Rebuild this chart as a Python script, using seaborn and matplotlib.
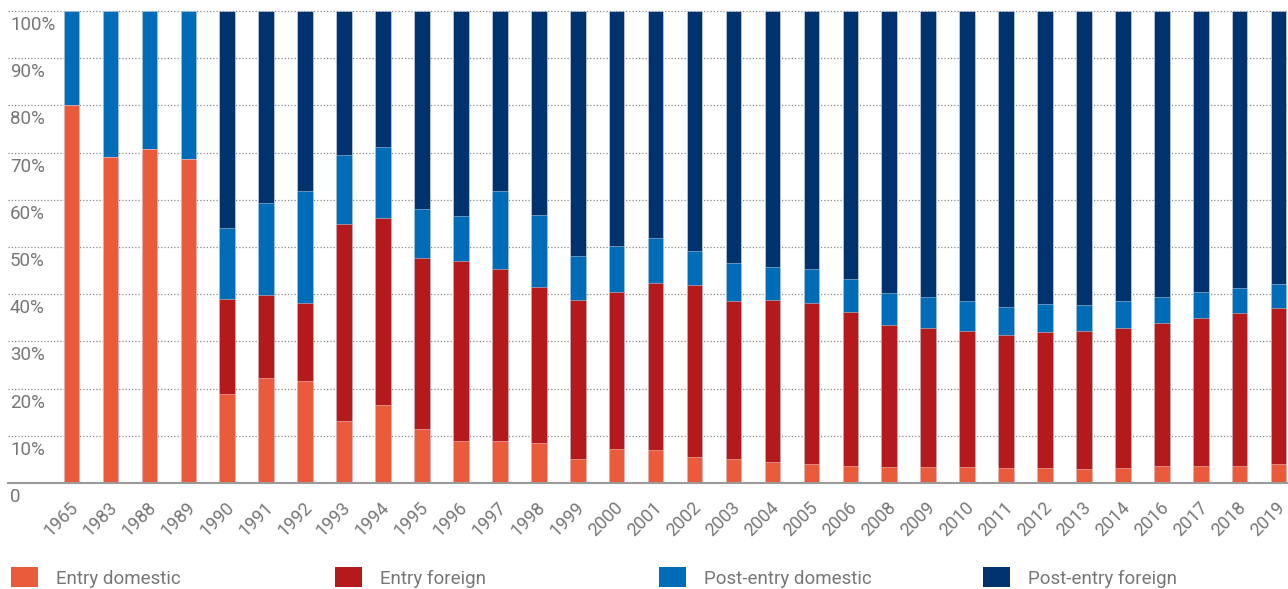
import matplotlib
matplotlib.use("Agg")
import matplotlib.pyplot as plt
import matplotlib.transforms as mtransforms
from matplotlib.patches import Patch
import numpy as np
import pandas as pd
import seaborn as sns

# Share of each type of capital (%), by year
years = ["1965", "1983", "1988", "1989", "1990", "1991", "1992", "1993", "1994",
         "1995", "1996", "1997", "1998", "1999", "2000", "2001", "2002", "2003",
         "2004", "2005", "2006", "2008", "2009", "2010", "2011", "2012", "2013",
         "2014", "2016", "2017", "2018", "2019"]

entry_domestic = [80.0, 69.1, 70.8, 68.6, 18.9, 22.2, 21.6, 13.1, 16.5, 11.4,
                  9.0, 8.9, 8.5, 5.1, 7.3, 6.9, 5.5, 5.1, 4.4, 4.0, 3.6, 3.4,
                  3.4, 3.4, 3.1, 3.1, 3.0, 3.1, 3.5, 3.5, 3.7, 4.0]
entry_foreign = [0.0, 0.0, 0.0, 0.0, 20.1, 17.6, 16.5, 41.7, 39.7, 36.3,
                 38.1, 36.4, 33.0, 33.7, 33.2, 35.4, 36.5, 33.4, 34.4, 34.2,
                 32.6, 30.1, 29.5, 28.7, 28.2, 28.8, 29.1, 29.8, 30.4, 31.5,
                 32.4, 33.0]
post_entry_domestic = [20.0, 30.9, 29.2, 31.4, 15.0, 19.5, 23.8, 14.6, 14.9,
                       10.3, 9.4, 16.5, 15.2, 9.3, 9.8, 9.5, 7.2, 8.2, 6.9,
                       7.1, 7.1, 6.7, 6.6, 6.4, 5.9, 6.0, 5.7, 5.7, 5.6, 5.4,
                       5.3, 5.2]
post_entry_foreign = [0.0, 0.0, 0.0, 0.0, 46.0, 40.7, 38.1, 30.6, 28.9, 42.0,
                      43.5, 38.2, 43.3, 51.9, 49.7, 48.2, 50.8, 53.3, 54.3,
                      54.7, 56.7, 59.8, 60.5, 61.5, 62.8, 62.1, 62.2, 61.4,
                      60.5, 59.6, 58.6, 57.8]

series_names = ["Entry domestic", "Entry foreign", "Post-entry domestic",
                "Post-entry foreign"]
series_colors = ["#EA5B3C", "#B4191C", "#006BB6", "#00336E"]

ytick_values = [0, 10, 20, 30, 40, 50, 60, 70, 80, 90, 100]
ytick_labels = ["0", "10%", "20%", "30%", "40%", "50%", "60%", "70%", "80%",
                "90%", "100%"]

sns.set_theme(style="white")
plt.rcParams["font.family"] = ["Roboto", "DejaVu Sans"]

text_grey = "#777777"

df = pd.DataFrame({
    "year": years,
    "ed": entry_domestic,
    "ef": entry_foreign,
    "pd": post_entry_domestic,
    "pf": post_entry_foreign,
})
# cumulative tops of each stacked segment
df["c1"] = df["ed"]
df["c2"] = df["c1"] + df["ef"]
df["c3"] = df["c2"] + df["pd"]
df["c4"] = df["c3"] + df["pf"]

W, H = 1288, 589
fig = plt.figure(figsize=(W / 100, H / 100), dpi=100)
ax = fig.add_axes([8 / W, (H - 483) / H, (W - 8) / W, (483 - 10) / H])

# draw tallest (cumulative) bars first so the lower segments sit on top
for col, color in zip(["c4", "c3", "c2", "c1"], series_colors[::-1]):
    sns.barplot(data=df, x="year", y=col, order=years, color=color,
                saturation=1, width=0.4, errorbar=None, ax=ax,
                edgecolor=(1, 1, 1, 0.45), linewidth=0.6, zorder=3)

n = len(years)
step = 38.94
ax.set_xlim((8 - 71.5) / step, (W - 71.5) / step)
ax.set_ylim(0, 100.2)

# grid
ax.set_yticks(ytick_values[1:])
ax.yaxis.grid(True, color="#8a8a8a", linestyle=(0, (1, 1.6)), linewidth=0.9)
ax.xaxis.grid(False)
ax.set_axisbelow(True)
ax.tick_params(axis="y", left=False, labelleft=False)
ax.tick_params(axis="x", bottom=False, pad=3)

for side in ["top", "right", "left"]:
    ax.spines[side].set_visible(False)
ax.spines["bottom"].set_color("#9a9a9a")
ax.spines["bottom"].set_linewidth(1.5)
ax.spines["bottom"].set_zorder(4)

ax.set_xlabel("")
ax.set_ylabel("")

# y labels sit just under their gridlines, inside the plot area
blend = mtransforms.blended_transform_factory(ax.transAxes, ax.transData)
down = mtransforms.ScaledTranslation(2 / 100, -14 / 100, fig.dpi_scale_trans)
for v, lab in zip(ytick_values, ytick_labels):
    ax.text(0, v, lab, transform=blend + down, ha="left", va="center",
            fontsize=13.5, color=text_grey)

# rotated year labels
ax.set_xticks(range(n))
ax.set_xticklabels(years, rotation=45, ha="right", va="center",
                   rotation_mode="anchor", fontsize=13, color=text_grey)
shift = mtransforms.ScaledTranslation(4 / 100, -9 / 100, fig.dpi_scale_trans)
for lbl in ax.get_xticklabels():
    lbl.set_transform(lbl.get_transform() + shift)

# legend entries spread across the bottom
legend_x = [11, 335, 659, 983]
for name, color, x in zip(series_names, series_colors, legend_x):
    fig.legend(handles=[Patch(facecolor=color, edgecolor="none", label=name)],
               loc="center left", bbox_to_anchor=(x / W, (H - 577.5) / H),
               frameon=False, fontsize=13.5, labelcolor=text_grey,
               handlelength=1.45, handleheight=1.22, handletextpad=0.95,
               borderpad=0, borderaxespad=0)

fig.savefig("out.png", dpi=100)
